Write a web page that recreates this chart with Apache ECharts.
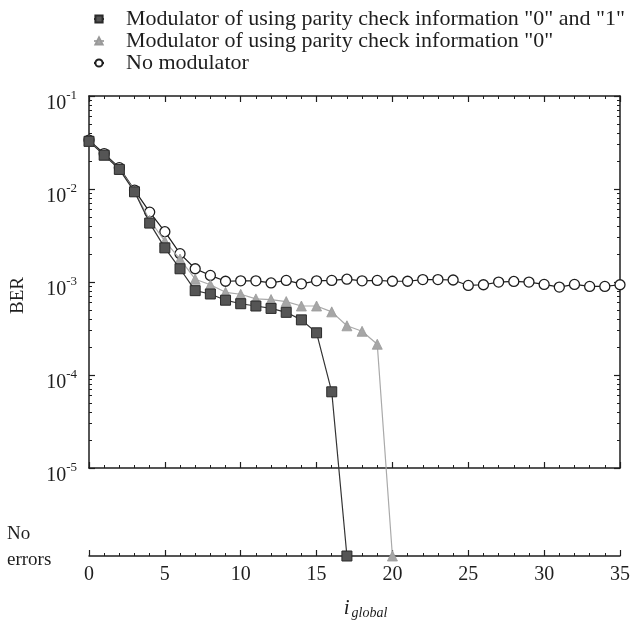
<!DOCTYPE html>
<html>
<head>
<meta charset="utf-8">
<script src="https://cdn.jsdelivr.net/npm/echarts@6/dist/echarts.min.js"></script>
<style>
  html, body { margin: 0; padding: 0; background: #fff; }
  #berChart { width: 634px; height: 625px; }
</style>
</head>
<body>
<div id="berChart"></div>
<script>
    // global iterations (x axis)
    var iterations = [0, 1, 2, 3, 4, 5, 6, 7, 8, 9, 10, 11, 12, 13, 14, 15, 16, 17, 18, 19,
        20, 21, 22, 23, 24, 25, 26, 27, 28, 29, 30, 31, 32, 33, 34, 35]
    var seriesNames = [
        'Modulator of using parity check information "0" and "1"',
        'Modulator of using parity check information "0"',
        'No modulator'
    ]
    // BER values, 0 means "No errors"
    var berBoth = [0.0320, 0.0226, 0.0158, 0.0090, 0.0041, 0.0022, 0.0013, 7.5e-4, 6.9e-4, 5.9e-4,
        5.4e-4, 5.1e-4, 4.8e-4, 4.35e-4, 3.6e-4, 2.6e-4, 5.9e-5, 0]
    var berZero = [0.0320, 0.0226, 0.0160, 0.0092, 0.0044, 0.0026, 0.00166, 1.0e-3, 8.7e-4, 7.2e-4,
        6.85e-4, 6.1e-4, 6.0e-4, 5.7e-4, 5.1e-4, 5.1e-4, 4.4e-4, 3.1e-4, 2.7e-4, 1.95e-4, 0]
    var berNone = [0.0330, 0.0235, 0.0165, 0.0094, 0.0054, 0.0033, 0.0019, 0.0013, 0.0011, 9.5e-4,
        9.6e-4, 9.6e-4, 9.1e-4, 9.7e-4, 8.9e-4, 9.6e-4, 9.7e-4, 1.0e-3, 9.6e-4, 9.7e-4,
        9.5e-4, 9.5e-4, 9.9e-4, 9.9e-4, 9.8e-4, 8.55e-4, 8.7e-4, 9.3e-4, 9.45e-4, 9.3e-4,
        8.77e-4, 8.2e-4, 8.77e-4, 8.35e-4, 8.35e-4, 8.7e-4]
    var decadeExps = [-5, -4, -3, -2, -1]

    // layout: one decade = 93px, "No errors" row sits 95px below 10^-5
    var decadePx = 93
    var noErrGap = 95
    var NO_ERR = -5 - noErrGap / decadePx

    var serif = '"Liberation Serif", "DejaVu Serif", serif'
    var ink = '#1e1e1e'

    function toPoints (ber) {
        return ber.map(function (v, i) {
            return [iterations[i], v > 0 ? Math.log10(v) : NO_ERR]
        })
    }

    var minorVals = []
    decadeExps.slice(0, -1).forEach(function (e) {
        for (var k = 2; k <= 9; k++) minorVals.push(e + Math.log10(k))
    })

    var lineAxis = { show: true, lineStyle: { color: ink, width: 1.5 } }

    function frameX (pos) {
        return {
            gridIndex: 0, type: 'value', position: pos, min: 0, max: 35, interval: 5,
            axisLine: lineAxis,
            axisTick: { inside: true, length: 6, lineStyle: { color: ink, width: 1.2 } },
            minorTick: { show: true, splitNumber: 5, length: 3, lineStyle: { color: ink, width: 1 } },
            axisLabel: { show: false },
            splitLine: { show: false }
        }
    }

    function frameY (pos, minor, labels) {
        return {
            gridIndex: 0, type: 'value', position: pos, min: -5, max: -1, interval: 1,
            axisLine: minor ? { show: false } : lineAxis,
            axisTick: {
                inside: true, length: minor ? 3 : 6,
                customValues: minor ? minorVals : decadeExps,
                lineStyle: { color: ink, width: minor ? 1 : 1.2 }
            },
            axisLabel: {
                show: labels,
                customValues: decadeExps,
                margin: 12,
                formatter: function (v) { return '{b|10}{s|' + Math.round(v) + '}' },
                rich: {
                    b: { fontFamily: serif, fontSize: 20, color: ink, padding: [16, 0, 0, 0] },
                    s: { fontFamily: serif, fontSize: 13, color: ink }
                }
            },
            splitLine: { show: false }
        }
    }

    var option = {
        animation: false,
        backgroundColor: '#fff',
        legend: {
            orient: 'vertical',
            left: 88,
            top: 3,
            itemWidth: 10,
            itemHeight: 9,
            itemGap: 0,
            data: seriesNames,
            textStyle: { fontFamily: serif, fontSize: 22, color: ink, lineHeight: 18.5, padding: [0, 0, 0, 17] }
        },
        grid: [
            { left: 89, top: 96, width: 531, height: decadePx * 4 },
            { left: 89, top: 96, width: 531, height: decadePx * 4 + noErrGap }
        ],
        xAxis: [
            frameX('bottom'),
            frameX('top'),
            {
                gridIndex: 1, type: 'value', position: 'bottom', min: 0, max: 35, interval: 5,
                axisLine: lineAxis,
                axisTick: { inside: true, length: 6, lineStyle: { color: ink, width: 1.2 } },
                minorTick: { show: true, splitNumber: 5, length: 3, lineStyle: { color: ink, width: 1 } },
                axisLabel: { fontFamily: serif, fontSize: 20, color: ink, margin: 9 },
                splitLine: { show: false },
                name: '{i|i}{g|global}',
                nameLocation: 'middle',
                nameGap: 40,
                nameTextStyle: {
                    padding: [0, 0, 0, 22],
                    rich: {
                        i: { fontFamily: serif, fontStyle: 'italic', fontSize: 21, color: ink },
                        g: { fontFamily: serif, fontStyle: 'italic', fontSize: 14, color: ink, padding: [10, 0, 0, 2] }
                    }
                }
            }
        ],
        yAxis: [
            frameY('left', false, true),
            frameY('left', true, false),
            frameY('right', false, false),
            frameY('right', true, false),
            { gridIndex: 1, type: 'value', min: NO_ERR, max: -1, show: false }
        ],
        graphic: [
            {
                type: 'text', left: 9, top: 277, rotation: Math.PI / 2,
                style: { text: 'BER', font: '19px ' + serif, fill: ink }
            },
            {
                type: 'text', left: 7, top: 521,
                style: { text: 'No\nerrors', font: '19px ' + serif, fill: ink, lineHeight: 26 }
            }
        ],
        series: [
            {
                name: seriesNames[2], type: 'line', xAxisIndex: 2, yAxisIndex: 4, z: 2,
                data: toPoints(berNone),
                symbol: 'circle', symbolSize: 10,
                lineStyle: { color: ink, width: 1.2 },
                itemStyle: { color: '#fff', borderColor: ink, borderWidth: 1.3 }
            },
            {
                name: seriesNames[1], type: 'line', xAxisIndex: 2, yAxisIndex: 4, z: 3,
                data: toPoints(berZero),
                symbol: 'triangle', symbolSize: 10,
                lineStyle: { color: '#a9a9a9', width: 1.2 },
                itemStyle: { color: '#a6a6a6', borderColor: '#999', borderWidth: 0.8 }
            },
            {
                name: seriesNames[0], type: 'line', xAxisIndex: 2, yAxisIndex: 4, z: 4,
                data: toPoints(berBoth),
                symbol: 'rect', symbolSize: 10,
                lineStyle: { color: '#333', width: 1.2 },
                itemStyle: { color: '#555', borderColor: '#2a2a2a', borderWidth: 1 }
            }
        ]
    }

    var myChart = echarts.init(document.getElementById('berChart'), null, { renderer: 'canvas' })
    myChart.setOption(option)
</script>
</body>
</html>
